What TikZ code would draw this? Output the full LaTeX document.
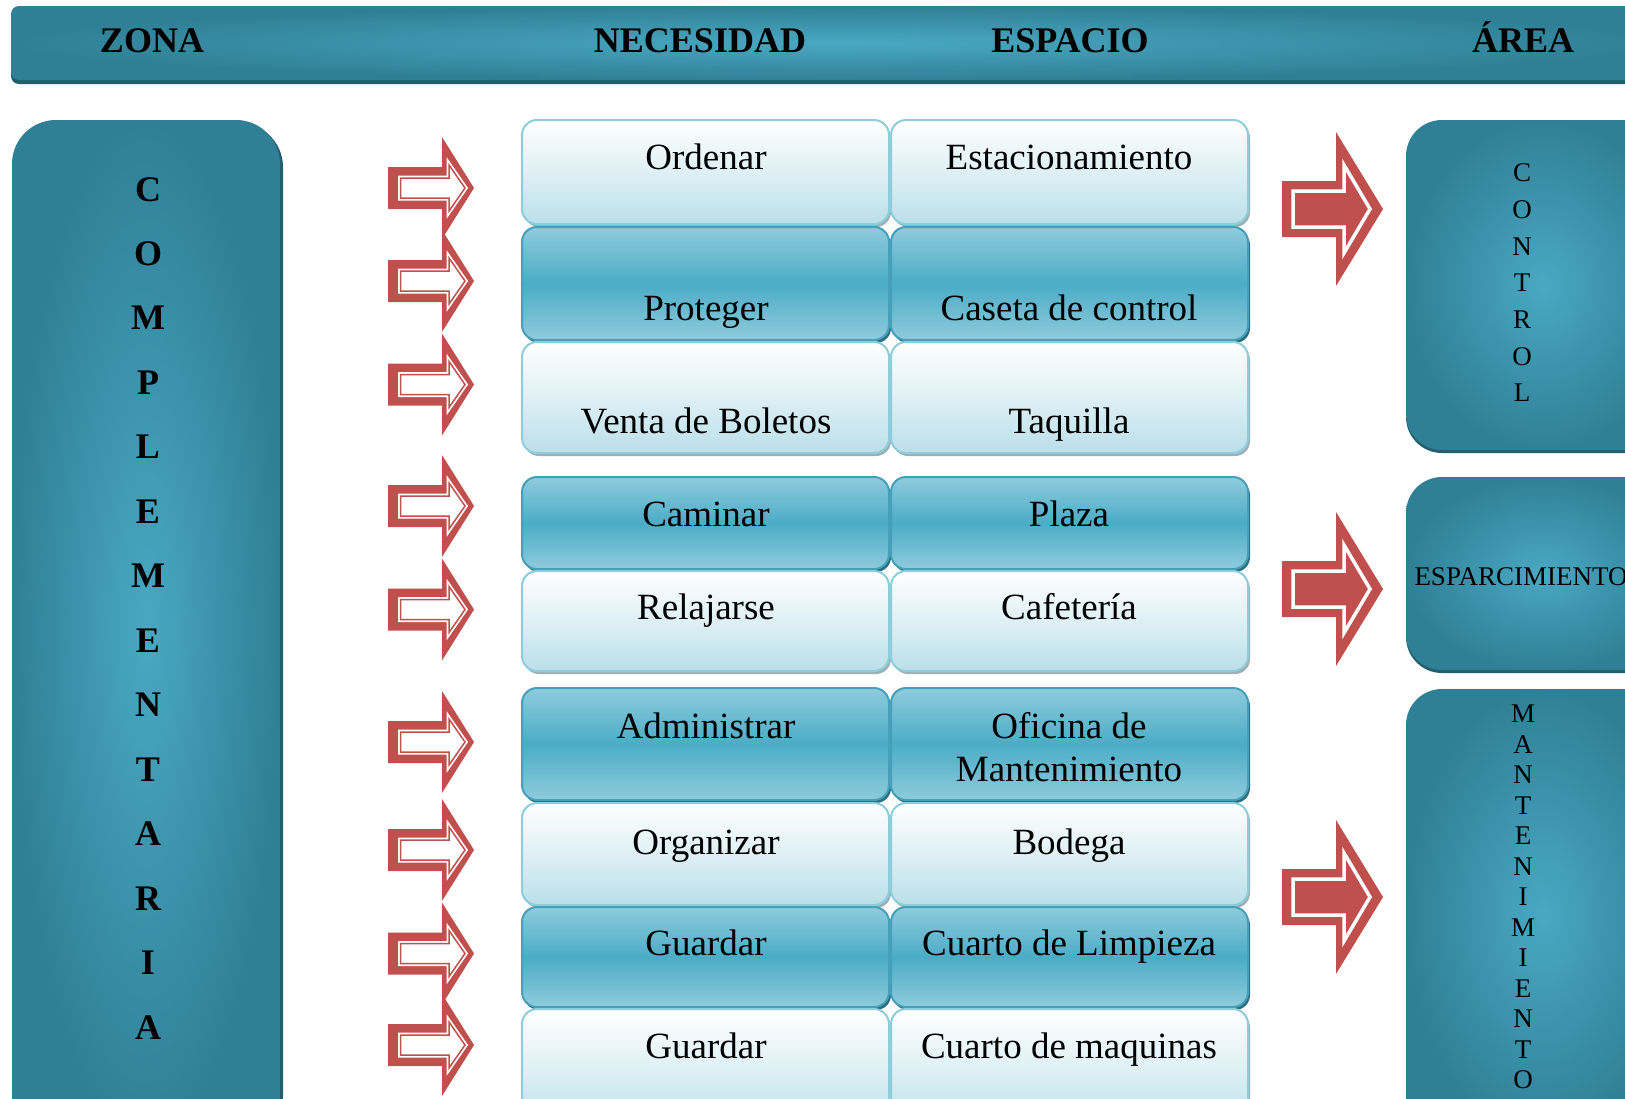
\documentclass[tikz,border=0pt]{standalone}
\usepackage{fontspec}
\setmainfont{Liberation Serif}
\usepackage{tikz}

\definecolor{tealdark}{RGB}{47,128,150}
\definecolor{teallight}{RGB}{74,168,194}
\definecolor{tealshadow}{RGB}{35,94,109}
\definecolor{arrowred}{RGB}{192,80,77}
\definecolor{cellline}{RGB}{141,205,220}
\definecolor{cellmid}{RGB}{222,240,245}
\definecolor{cellbot}{RGB}{186,223,233}
\definecolor{darktop}{RGB}{143,203,220}
\definecolor{darkmid}{RGB}{75,172,198}
\definecolor{darkline}{RGB}{70,160,186}
\definecolor{darkshadow}{RGB}{42,110,128}
\definecolor{greyshadow}{RGB}{158,176,182}

\tikzset{
	zonebox/.style={inner color=teallight, outer color=tealdark},
	lightcell/.style={top color=white, bottom color=cellbot, middle color=cellmid, draw=cellline, line width=1pt, rounded corners=7.5pt},
	darkcell/.style={top color=darktop, bottom color=darktop, middle color=darkmid, draw=darkline, line width=1pt, rounded corners=7.5pt},
	celltext/.style={font=\fontsize{18.5}{21.5}\selectfont, anchor=base, inner sep=0pt},
	headtext/.style={font=\fontsize{18}{20}\selectfont\bfseries, anchor=base, inner sep=0pt},
	bigletter/.style={font=\fontsize{18}{20}\selectfont\bfseries, inner sep=0pt},
	arealetter/.style={font=\fontsize{13.5}{15}\selectfont, inner sep=0pt}
}

\begin{document}
\begin{tikzpicture}[x=0.5pt, y=-0.5pt]
	\useasboundingbox (0,0) rectangle (1625,1098);
	\fill[white] (0,0) rectangle (1625,1098);
	\clip (0,0) rectangle (1625,1098);
	
	%title bar
	\fill[tealshadow, rounded corners=4pt] (11,9) rectangle (1660,84);
	\path[zonebox, rounded corners=4pt] (11,6) rectangle (1660,80);
	\node[headtext] (zona) at (152,52.5) {ZONA};
	\node[headtext] (necesidad) at (700,52.5) {NECESIDAD};
	\node[headtext] (espacio) at (1070,52.5) {ESPACIO};
	\node[headtext] (area) at (1523,52.5) {ÁREA};
	
	%zona box (left)
	\fill[tealshadow, rounded corners=22pt] (14,123) rectangle (283,1140);
	\path[zonebox, rounded corners=22pt] (12,120) rectangle (280,1140);
	\foreach \ch [count=\i] in {C,O,M,P,L,E,M,E,N,T,A,R,I,A}
		\node[bigletter] (zl\i) at (148,{189.3+64.45*(\i-1)}) {\ch};
	
	%area boxes (right)
	\fill[tealshadow, rounded corners=18pt] (1406,123) rectangle (1680,453);
	\path[zonebox, rounded corners=18pt] (1406,120) rectangle (1680,450);
	\fill[tealshadow, rounded corners=18pt] (1406,480) rectangle (1680,673);
	\path[zonebox, rounded corners=18pt] (1406,477) rectangle (1680,670);
	\fill[tealshadow, rounded corners=18pt] (1406,692) rectangle (1680,1140);
	\path[zonebox, rounded corners=18pt] (1406,689) rectangle (1680,1140);
	\foreach \ch [count=\i] in {C,O,N,T,R,O,L}
		\node[arealetter] (ctl\i) at (1522,{173+36.67*(\i-1)}) {\ch};
	\node[arealetter] (esparc) at (1521,577) {ESPARCIMIENTO};
	\foreach \ch [count=\i] in {M,A,N,T,E,N,I,M,I,E,N,T,O}
		\node[arealetter] (mant\i) at (1523,{714+30.5*(\i-1)}) {\ch};
	
	%cells
	\foreach \ya/\yb/\sty/\shc/\bl/\nec/\esp [count=\i] in {
		120/224/lightcell/greyshadow/169.5/Ordenar/Estacionamiento,
		227/340/darkcell/darkshadow/320/Proteger/Caseta de control,
		342/453/lightcell/greyshadow/433/Venta de Boletos/Taquilla,
		477/569/darkcell/darkshadow/526/Caminar/Plaza,
		571/671/lightcell/greyshadow/619/Relajarse/Cafetería,
		688/800/darkcell/darkshadow/738.5/Administrar/Oficina de,
		803/905/lightcell/greyshadow/854/Organizar/Bodega,
		907/1007/darkcell/darkshadow/955/Guardar/Cuarto de Limpieza,
		1009/1130/lightcell/greyshadow/1058.5/Guardar/Cuarto de maquinas}{
		\fill[\shc, rounded corners=7.5pt] (524,\ya+3) rectangle (891,\yb+3);
		\fill[\shc, rounded corners=7.5pt] (893,\ya+3) rectangle (1250,\yb+3);
		\path[\sty] (522,\ya) rectangle (889,\yb);
		\path[\sty] (891,\ya) rectangle (1248,\yb);
		\node[celltext] (nec\i) at (706,\bl) {\nec};
		\node[celltext] (esp\i) at (1069,\bl) {\esp};
	}
	\node[celltext] (esp6b) at (1069,781) {Mantenimiento};
	
	%arrows (left)
	\foreach \c in {188,281,384.5,506,609.5,742,850,953.5,1045}{
		\fill[arrowred] (388,\c-21) -- (442,\c-21) -- (442,\c-51) -- (474,\c) -- (442,\c+51) -- (442,\c+21) -- (388,\c+21) -- cycle;
		\path[fill=white, draw=white, line width=2.5pt, postaction={draw=arrowred, line width=0.75pt}]
			(400.5,\c-10) -- (449,\c-10) -- (449,\c-23) -- (465,\c) -- (449,\c+23) -- (449,\c+10) -- (400.5,\c+10) -- cycle;
	}
	
	%arrows (right)
	\foreach \c in {209,589,897}{
		\fill[arrowred] (1282,\c-28) -- (1336,\c-28) -- (1336,\c-77) -- (1383,\c) -- (1336,\c+77) -- (1336,\c+28) -- (1282,\c+28) -- cycle;
		\draw[white, line width=1.75pt] (1293,\c-18) -- (1344,\c-18) -- (1344,\c-44) -- (1370,\c) -- (1344,\c+44) -- (1344,\c+18) -- (1293,\c+18) -- cycle;
	}
\end{tikzpicture}
\end{document}
